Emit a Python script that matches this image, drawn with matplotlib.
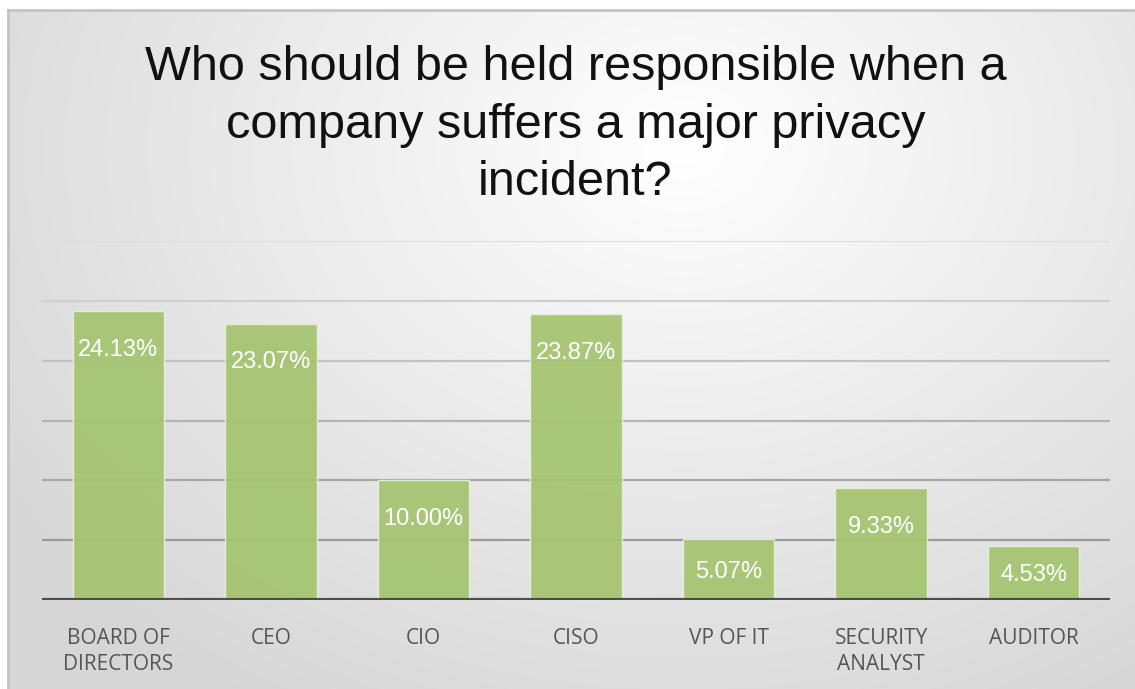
import numpy as np
import matplotlib
matplotlib.use("Agg")
import matplotlib.pyplot as plt

# Survey results (% of respondents)
categories = ["BOARD OF\nDIRECTORS", "CEO", "CIO", "CISO", "VP OF IT",
              "SECURITY\nANALYST", "AUDITOR"]
values = [24.13, 23.07, 10.00, 23.87, 5.07, 9.33, 4.53]
value_labels = ["24.13%", "23.07%", "10.00%", "23.87%", "5.07%", "9.33%", "4.53%"]
title = "Who should be held responsible when a\ncompany suffers a major privacy\nincident?"
grid_levels = [5, 10, 15, 20, 25, 30]

W, H = 1135, 689
fig = plt.figure(figsize=(W / 100, H / 100), dpi=100)
fig.patch.set_facecolor("white")

# Background panel with a soft radial gradient
bg = fig.add_axes([8 / W, 0, 1 - 8 / W, 1 - 10 / H])
yy, xx = np.mgrid[0:H, 0:W]
r = np.sqrt(((xx - 680) / 900.0) ** 2 + ((yy - 140) / 700.0) ** 2)
shade = np.clip(1.0 - 0.17 * r, 0.84, 1.0)
img = np.dstack([shade, shade, shade])
bg.imshow(img, extent=[0, 1, 0, 1], aspect="auto", origin="upper")
bg.set_xlim(0, 1)
bg.set_ylim(0, 1)
for s in ["left", "top"]:
    bg.spines[s].set_color("#c4c4c4")
    bg.spines[s].set_linewidth(2)
for s in ["right", "bottom"]:
    bg.spines[s].set_visible(False)
bg.set_xticks([])
bg.set_yticks([])

fig.text(0.507, 1 - 45 / H, title, ha="center", va="top",
         fontsize=35, family="Liberation Sans", color="#111111",
         linespacing=1.36)

ax = fig.add_axes([42 / W, (H - 600) / H, (1110 - 42) / W, (600 - 241) / H])
ax.patch.set_alpha(0)
x = np.arange(len(categories))
ax.set_xlim(-0.5, len(categories) - 0.5)
ax.set_ylim(0, 30)

grid_colors = ["#9a9a9a", "#a6a6a6", "#b4b4b4", "#c2c2c2", "#d0d0d0", "#dedede"]
for lvl, c in zip(grid_levels, grid_colors):
    ax.axhline(lvl, color=c, lw=1.6, zorder=1)

ax.bar(x, values, width=0.6, color="#a4c46f", alpha=0.92,
       edgecolor="#e8f0dc", linewidth=1.0, zorder=2)
ax.axhline(0, color="#4d4d4d", lw=3, zorder=3)

for xi, v, lab in zip(x, values, value_labels):
    ypos = max(v - 3.2, v / 2 - 0.2)
    ax.text(xi, ypos, lab, ha="center", va="center", color="white",
            fontsize=17, family="Liberation Sans", zorder=4)

ax.set_xticks(x)
ax.set_xticklabels(categories, fontsize=15, family="Open Sans",
                   color="#555555", linespacing=1.3, va="top")
ax.tick_params(axis="x", length=0, pad=20)
ax.set_yticks([])
for s in ax.spines.values():
    s.set_visible(False)

fig.savefig("out.png", dpi=100)
